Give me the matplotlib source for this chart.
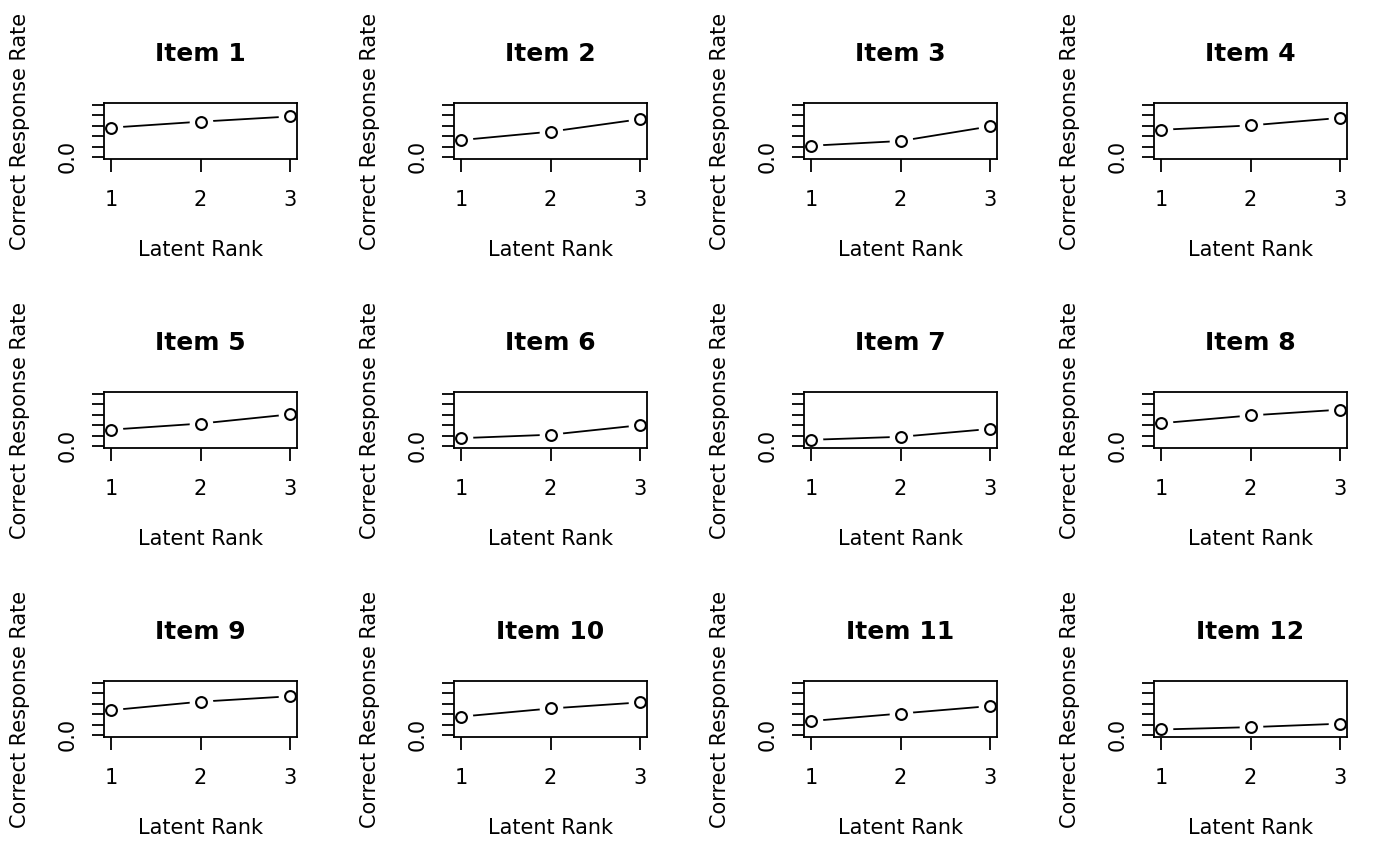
import numpy as np
import matplotlib
matplotlib.use("Agg")
import matplotlib.pyplot as plt

# --------------------------------------------------
# データ
# --------------------------------------------------
ranks = [1, 2, 3]
item_names = [f"Item {i}" for i in range(1, 13)]
item1 = [0.565, 0.680, 0.780]
item2 = [0.325, 0.487, 0.727]
item3 = [0.216, 0.307, 0.588]
item4 = [0.523, 0.608, 0.752]
item5 = [0.314, 0.431, 0.608]
item6 = [0.150, 0.216, 0.399]
item7 = [0.118, 0.176, 0.327]
item8 = [0.438, 0.588, 0.699]
item9 = [0.477, 0.641, 0.745]
item10 = [0.353, 0.510, 0.627]
item11 = [0.268, 0.412, 0.556]
item12 = [0.105, 0.150, 0.216]
items = [item1, item2, item3, item4, item5, item6,
         item7, item8, item9, item10, item11, item12]

y_ticks = [0.0, 0.2, 0.4, 0.6, 0.8, 1.0]
y_ticklabels = ["0.0", "", "", "", "", ""]

# --------------------------------------------------
# プロット
# --------------------------------------------------
plt.rcParams["font.family"] = ["DejaVu Sans"]
W, H = 1400, 866
fig = plt.figure(figsize=(W / 100, H / 100), dpi=100)

# パネル位置 [px]
box_left0, box_top0 = 104, 103
box_w, box_h = 193, 56
dx, dy = 350, 289

for k, (name, vals) in enumerate(zip(item_names, items)):
    r, c = divmod(k, 4)
    left = box_left0 + c * dx
    top = box_top0 + r * dy
    ax = fig.add_axes([left / W, (H - top - box_h) / H, box_w / W, box_h / H])

    # type="b" 風: 線 → 白い円で隙間 → 白抜き丸
    ax.plot(ranks, vals, color="black", lw=1.3, zorder=2)
    ax.plot(ranks, vals, ls="none", marker="o", ms=16, mfc="white", mec="white", zorder=3)
    ax.plot(ranks, vals, ls="none", marker="o", ms=7.8, mfc="white", mec="black", mew=1.5, zorder=4)

    ax.set_xlim(0.92, 3.08)
    ax.set_ylim(-0.04, 1.04)
    ax.set_xticks(ranks)
    ax.set_xticklabels([str(x) for x in ranks], fontsize=15)
    ax.set_yticks(y_ticks)
    ax.set_yticklabels(y_ticklabels, fontsize=15, rotation=90, va="center")
    ax.tick_params(axis="both", direction="out", length=9, width=1.3, color="black")
    ax.tick_params(axis="x", pad=13)
    ax.tick_params(axis="y", pad=10)
    for sp in ax.spines.values():
        sp.set_linewidth(1.3)
        sp.set_zorder(5)

    ax.set_title(name, fontsize=18, fontweight="bold", pad=30)
    ax.set_xlabel("Latent Rank", fontsize=15, labelpad=22)
    ax.set_ylabel("Correct Response Rate", fontsize=15, labelpad=20)

fig.savefig("out.png", dpi=100)
